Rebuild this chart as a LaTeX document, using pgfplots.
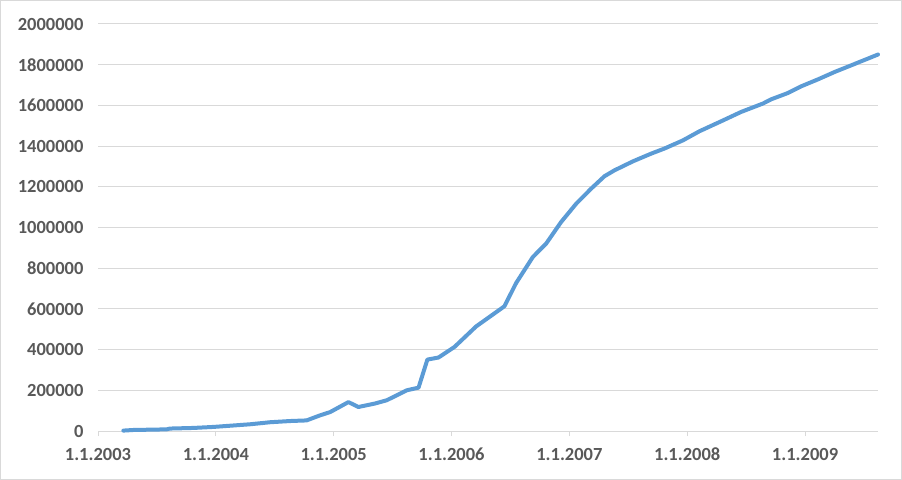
\documentclass[border=0pt]{standalone}
\usepackage{pgfplots}
\pgfplotsset{compat=1.18}
\usepackage{fontspec}
\setmainfont{Carlito}
\definecolor{lineblue}{HTML}{5B9BD5}
\definecolor{gridgray}{HTML}{D9D9D9}
\definecolor{txtgray}{HTML}{595959}
\begin{document}
\begin{tikzpicture}
\useasboundingbox (0,0) rectangle (902bp,480bp);
\draw[gridgray, line width=1bp] (0.5bp,0.5bp) rectangle (901.5bp,479.5bp);
\begin{axis}[
  at={(98bp,49bp)}, anchor=south west,
  scale only axis, width=780bp, height=407bp,
  xmin=2003, xmax=2009.619, ymin=0, ymax=2000000,
  clip=false,
  scaled y ticks=false, scaled x ticks=false,
  axis x line*=bottom,
  axis y line*=left,
  x axis line style={gridgray, line width=1bp, -},
  y axis line style={draw=none},
  xtick={2003,2004,2005,2006,2007,2008,2009},
  xticklabels={1.1.2003,1.1.2004,1.1.2005,1.1.2006,1.1.2007,1.1.2008,1.1.2009},
  ytick={0,200000,400000,600000,800000,1000000,1200000,1400000,1600000,1800000,2000000},
  yticklabels={0,200000,400000,600000,800000,1000000,1200000,1400000,1600000,1800000,2000000},
  xtick align=outside,
  major tick length=5bp,
  xtick style={gridgray, line width=1bp},
  ytick style={draw=none},
  ymajorgrids,
  grid style={gridgray, line width=1bp},
  tick label style={font=\fontsize{18.5bp}{22bp}\selectfont\bfseries, text=txtgray},
  xticklabel style={anchor=north, yshift=-8.5bp},
  yticklabel style={anchor=east, xshift=-11bp},
]
\addplot[lineblue, line width=4bp, line join=round, line cap=round] coordinates {
(2003.215,2000) (2003.30,5000) (2003.583,8000) (2003.611,12000) (2003.809,15000)
(2003.979,20000) (2004.29,33000) (2004.46,43000) (2004.63,49000) (2004.77,52000)
(2004.885,77000) (2004.97,93000) (2005.125,142000) (2005.21,118000) (2005.35,135000)
(2005.45,151000) (2005.62,200000) (2005.72,213000) (2005.795,351000) (2005.889,361000)
(2006.025,413000) (2006.209,514000) (2006.449,613000) (2006.548,727000) (2006.69,855000)
(2006.803,921000) (2006.93,1027000) (2007.058,1117000) (2007.185,1191000) (2007.298,1252000)
(2007.383,1281000) (2007.539,1325000) (2007.694,1363000) (2007.807,1388000) (2007.963,1428000)
(2008.104,1473000) (2008.288,1522000) (2008.458,1568000) (2008.642,1609000) (2008.713,1630000)
(2008.855,1661000) (2008.968,1694000) (2009.110,1728000) (2009.250,1764000) (2009.392,1797000)
(2009.619,1850000)
};
\end{axis}
\end{tikzpicture}
\end{document}
